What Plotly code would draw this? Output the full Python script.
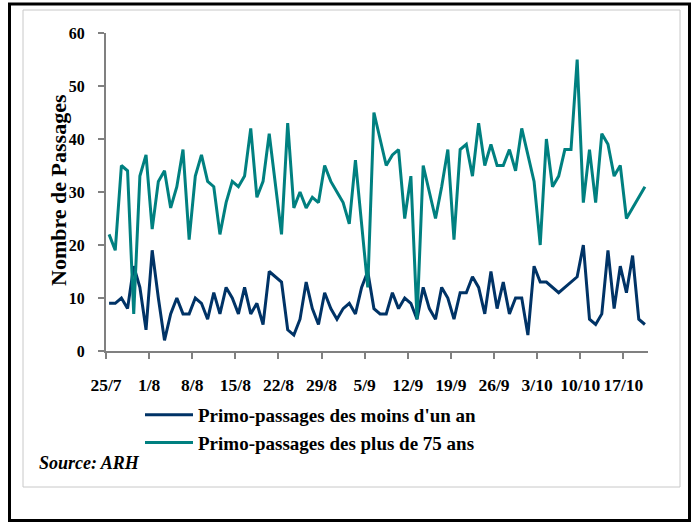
import pandas as pd
import plotly.graph_objects as go

# ---- data ----
start_date = "2005-07-25"
n_days = 88
moins_un_an = [9, 9, 10, 8, 16, 12, 4, 19, 10, 2, 7, 10, 7, 7, 10, 9, 6, 11, 7, 12,
               10, 7, 12, 7, 9, 5, 15, 14, 13, 4, 3, 6, 13, 8, 5, 11, 8, 6, 8, 9,
               7, 12, 15, 8, 7, 7, 11, 8, 10, 9, 6, 12, 8, 6, 12, 10, 6, 11, 11, 14,
               12, 7, 15, 8, 13, 7, 10, 10, 3, 16, 13, 13, 12, 11, 12, 13, 14, 20, 6, 5,
               7, 19, 8, 16, 11, 18, 6, 5]
plus_75_ans = [22, 19, 35, 34, 7, 33, 37, 23, 32, 34, 27, 31, 38, 21, 33, 37, 32, 31, 22, 28,
               32, 31, 33, 42, 29, 32, 41, 32, 22, 43, 27, 30, 27, 29, 28, 35, 32, 30, 28, 24,
               36, 24, 12, 45, 40, 35, 37, 38, 25, 33, 6, 35, 30, 25, 31, 38, 21, 38, 39, 33,
               43, 35, 39, 35, 35, 38, 34, 42, 37, 32, 20, 40, 31, 33, 38, 38, 55, 28, 38, 28,
               41, 39, 33, 35, 25, 27, 29, 31]
tick_labels = ["25/7", "1/8", "8/8", "15/8", "22/8", "29/8", "5/9", "12/9",
               "19/9", "26/9", "3/10", "10/10", "17/10"]
series_names = ["Primo-passages des moins d'un an", "Primo-passages des plus de 75 ans"]
y_title = "Nombre de Passages"
source_text = "Source: ARH"

days = pd.date_range(start_date, periods=n_days, freq="D")
x_points = days + pd.Timedelta(hours=12)          # points sit between date ticks
tick_dates = pd.date_range(start_date, periods=len(tick_labels), freq="7D")

NAVY = "#003366"
TEAL = "#008080"
AXIS = "#808080"
FONT = "Liberation Serif"

W, H = 693, 524
ML, MR, MT, MB = 106, 45, 33, 173
PW, PH = W - ML - MR, H - MT - MB


def px(xp):
    return (xp - ML) / PW


def py(yp):
    return (H - MB - yp) / PH


fig = go.Figure()
fig.add_trace(go.Scatter(x=x_points, y=moins_un_an, mode="lines", name=series_names[0],
                         line=dict(color=NAVY, width=3)))
fig.add_trace(go.Scatter(x=x_points, y=plus_75_ans, mode="lines", name=series_names[1],
                         line=dict(color=TEAL, width=3)))

fig.update_layout(
    width=W, height=H,
    margin=dict(l=ML, r=MR, t=MT, b=MB, autoexpand=False),
    paper_bgcolor="white", plot_bgcolor="white",
    font=dict(family=FONT, color="black"),
    showlegend=True,
    legend=dict(x=px(140), y=py(396), xanchor="left", yanchor="top",
                font=dict(family=FONT, size=19, weight="bold", color="black"),
                bgcolor="rgba(0,0,0,0)", tracegroupgap=0, itemwidth=48),
    xaxis=dict(
        type="date",
        range=[days[0], days[-1] + pd.Timedelta(days=1)],
        tickvals=tick_dates, ticktext=tick_labels,
        ticks="outside", ticklen=6, tickwidth=1.5, tickcolor=AXIS,
        showline=True, linecolor=AXIS, linewidth=2,
        showgrid=False, zeroline=False,
        tickfont=dict(family=FONT, size=17.5, weight="bold", color="black"),
        ticklabelstandoff=11,
    ),
    yaxis=dict(
        range=[0, 60], dtick=10, tick0=0,
        ticks="outside", ticklen=6, tickwidth=1.5, tickcolor=AXIS,
        showline=True, linecolor=AXIS, linewidth=2,
        showgrid=False, zeroline=False,
        tickfont=dict(family=FONT, size=16, weight="bold", color="black"),
        ticklabelstandoff=10,
    ),
    annotations=[
        dict(text=y_title, textangle=-90, x=px(58), y=py(190), xref="paper", yref="paper",
             showarrow=False, xanchor="center", yanchor="middle",
             font=dict(family=FONT, size=22, weight="bold", color="black")),
        dict(text=source_text, x=px(37), y=py(463), xref="paper", yref="paper",
             showarrow=False, xanchor="left", yanchor="middle",
             font=dict(family=FONT, size=18, weight="bold", style="italic", color="black")),
    ],
    shapes=[
        dict(type="rect", xref="paper", yref="paper", x0=px(23), x1=px(680), y0=py(10), y1=py(487),
             line=dict(color="#c8c8c8", width=1), fillcolor="rgba(0,0,0,0)", layer="below"),
        dict(type="rect", xref="paper", yref="paper", x0=px(9.5), x1=px(689.5), y0=py(4), y1=py(520.5),
             line=dict(color="black", width=3), fillcolor="rgba(0,0,0,0)", layer="below"),
    ],
)

fig.write_html("out.html",
               config={"displayModeBar": False},
               post_script="document.body.style.margin='0';document.body.style.overflow='hidden';")
